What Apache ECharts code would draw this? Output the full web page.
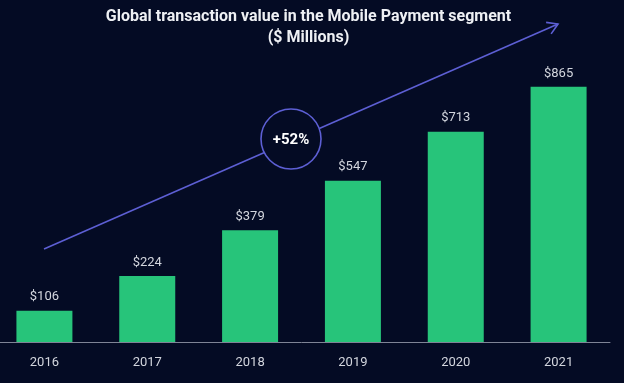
<!DOCTYPE html>
<html>
<head>
<meta charset="utf-8">
<script src="https://cdn.jsdelivr.net/npm/echarts@6/dist/echarts.min.js"></script>
<style>
html,body{margin:0;padding:0;background:#040b24;overflow:hidden;width:624px;height:383px;}
#c{width:631px;height:383px;margin-left:-7px;}
</style>
</head>
<body>
<div id="c"></div>
<script>
const categories = ['2016', '2017', '2018', '2019', '2020', '2021'];
const values = [106, 224, 379, 547, 713, 865];
const titleLine1 = 'Global transaction value in the Mobile Payment segment';
const titleLine2 = '($ Millions)';
const growthLabel = '+52%';

const BG = '#040b24';
const ARROW = '#5d5fd4';
const OFF = 7; // container is shifted left by 7px

const chart = echarts.init(document.getElementById('c'), null, {renderer: 'canvas'});

// arrow geometry (decorative annotation, page coords + offset)
const x0 = 44 + OFF, y0 = 249, x1 = 558 + OFF, y1 = 24;
const ang = Math.atan2(y1 - y0, x1 - x0);
const headLen = 12, headSpread = 0.55;
const hA = [x1 - headLen * Math.cos(ang - headSpread), y1 - headLen * Math.sin(ang - headSpread)];
const hB = [x1 - headLen * Math.cos(ang + headSpread), y1 - headLen * Math.sin(ang + headSpread)];

chart.setOption({
  backgroundColor: BG,
  animation: false,
  title: {
    text: titleLine1 + '\n' + titleLine2,
    left: 'center',
    top: 6,
    padding: 0,
    textStyle: {
      color: '#eef0f4',
      fontFamily: 'Roboto',
      fontWeight: 'bold',
      fontSize: 16,
      lineHeight: 21,
      align: 'center'
    }
  },
  grid: {left: 0, right: 14, top: 47, bottom: 41, containLabel: false},
  xAxis: {
    type: 'category',
    data: categories,
    axisLine: {show: true, lineStyle: {color: '#7f8496', width: 1}},
    axisTick: {show: false},
    axisLabel: {color: '#d3d6de', fontFamily: 'Roboto', fontSize: 13, margin: 14}
  },
  yAxis: {
    type: 'value',
    min: 0,
    max: 1000,
    show: false,
    splitLine: {show: false}
  },
  series: [{
    type: 'bar',
    data: values,
    barWidth: 56,
    itemStyle: {color: '#27c47a'},
    label: {
      show: true,
      position: 'top',
      distance: 7,
      formatter: p => '$' + p.value,
      color: '#d3d6de',
      fontFamily: 'Roboto',
      fontSize: 13
    }
  }],
  graphic: [
    {
      type: 'line',
      shape: {x1: x0, y1: y0, x2: x1, y2: y1},
      style: {stroke: ARROW, lineWidth: 1.6},
      z: 10
    },
    {
      type: 'polyline',
      shape: {points: [hA, [x1, y1], hB]},
      style: {stroke: ARROW, lineWidth: 1.6, fill: null},
      z: 10
    },
    {
      type: 'circle',
      shape: {cx: 291 + OFF, cy: 139, r: 30},
      style: {fill: BG, stroke: ARROW, lineWidth: 1.6},
      z: 11
    },
    {
      type: 'text',
      x: 291 + OFF,
      y: 140,
      style: {
        text: growthLabel,
        fill: '#ffffff',
        font: 'bold 15px Roboto',
        textAlign: 'center',
        textVerticalAlign: 'middle'
      },
      z: 12
    }
  ]
});
</script>
</body>
</html>
